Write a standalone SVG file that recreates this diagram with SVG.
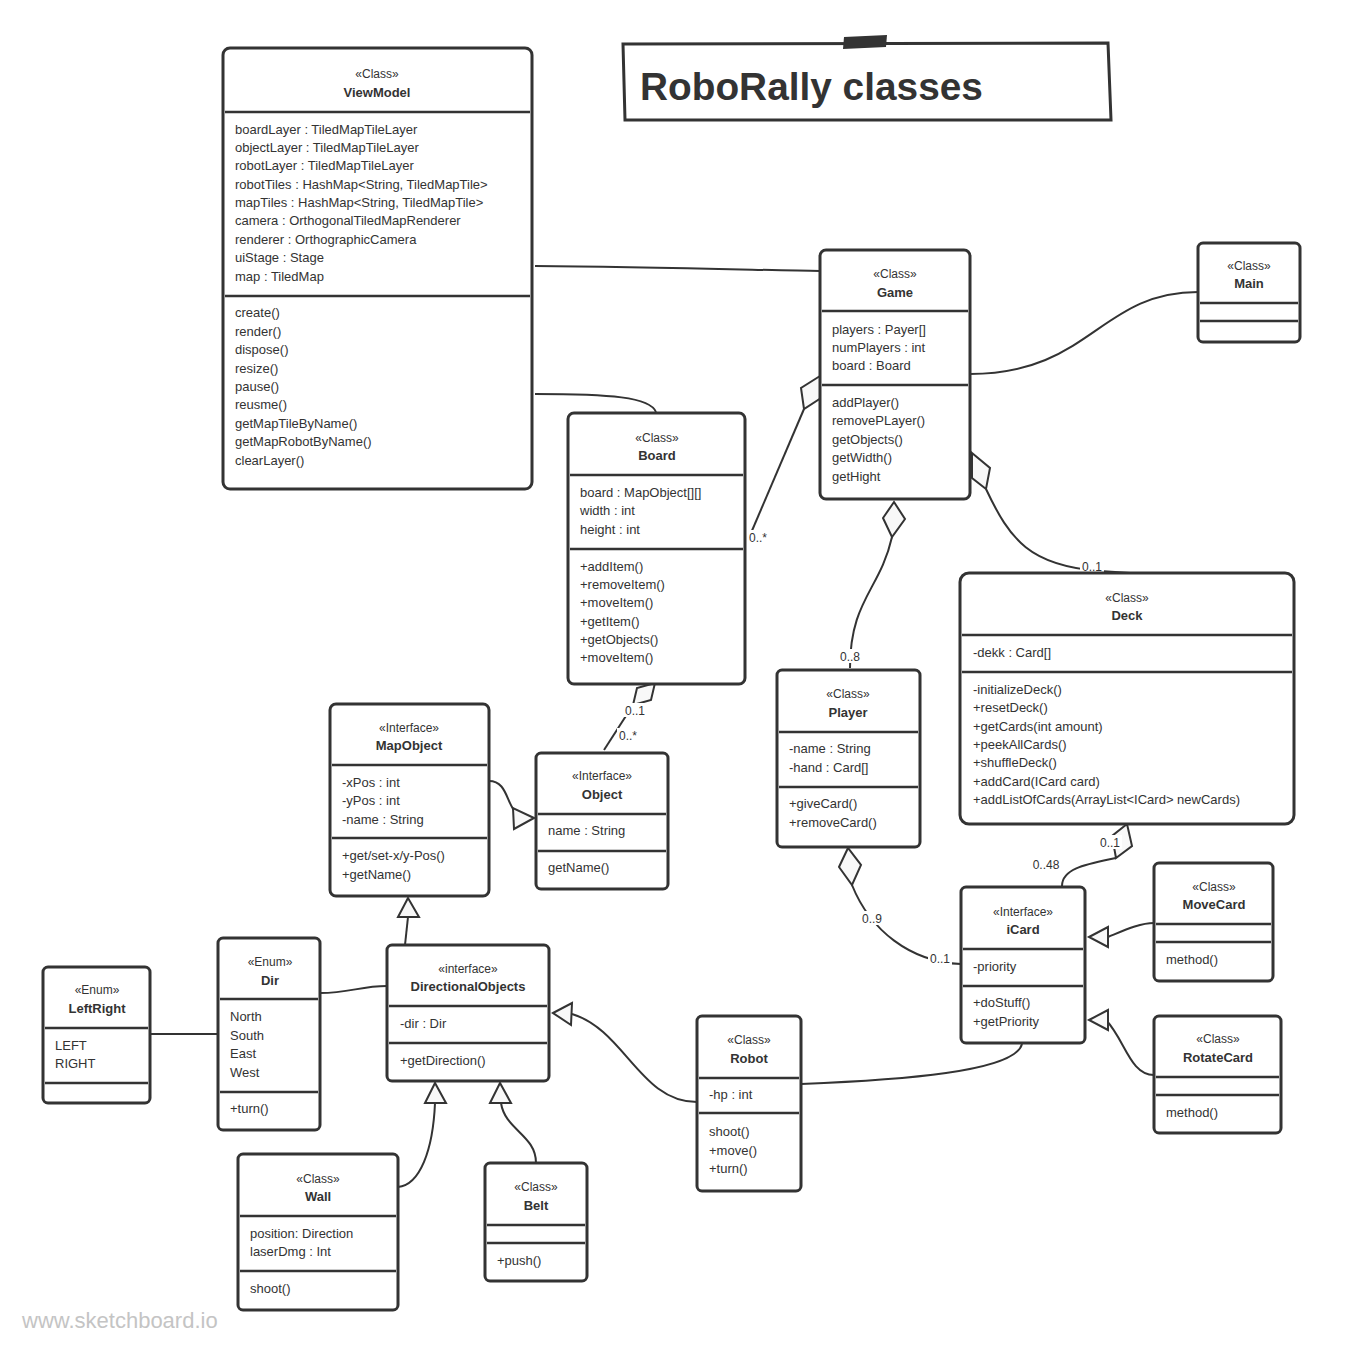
<svg xmlns="http://www.w3.org/2000/svg" width="1356" height="1352" viewBox="0 0 1356 1352">
<style>
.box{fill:#fff;stroke:#333;stroke-width:3}
.dv{stroke:#333;stroke-width:2.5;fill:none}
text{font-family:"Liberation Sans",Arial,sans-serif;fill:#333}
.t{font-size:13px}
.st{font-size:12px;text-anchor:middle}
.nm{font-size:13px;font-weight:bold;text-anchor:middle}
.conn{fill:none;stroke:#333;stroke-width:2}
.head{fill:#f8f8f8;stroke:#333;stroke-width:2;stroke-linejoin:miter}
.lbl{font-size:12px;text-anchor:middle}
.lb{fill:#fff}
</style>
<rect width="1356" height="1352" fill="#fff"/>

<g id="title">
<path d="M623,44 L1108,43 L1111,120 L625,120 Z" fill="#fff" stroke="#333" stroke-width="3"/>
<path d="M844,37 L887,35 L886,47 L843,49 Z" fill="#333"/>
<text x="640" y="100" style="font-size:38.8px;font-weight:bold">RoboRally classes</text>
</g>

<g id="connectors">
<path class="conn" d="M535,266 C650,267 760,270 820,271"/>
<path class="conn" d="M535,394 C610,394 650,397 656,412"/>
<path class="conn" d="M970,374 C1090,374 1100,292 1198,292"/>
<path class="conn" d="M804,409 L748,540"/>
<polygon class="head" points="820,376 801,388 804,409 821,398"/>
<path class="conn" d="M892,537 C880,590 850,600 850,668"/>
<polygon class="head" points="894,502 883,518 892,537 905,519"/>
<path class="conn" d="M986,489 C1010,540 1030,566 1100,571 L1130,573"/>
<polygon class="head" points="972,453 990,468 986,489 972,478"/>
<path class="conn" d="M633,705 L604,750"/>
<polygon class="head" points="655,683 637,688 633,705 651,700"/>
<path class="conn" d="M489,781 C506,781 506,800 515,812"/>
<polygon class="head" points="534,818 513,808 514,829"/>
<path class="conn" d="M408,917 L405,945"/>
<polygon class="head" points="408,898 398,917 419,917"/>
<path class="conn" d="M320,993 C350,993 360,986 387,986"/>
<path class="conn" d="M150,1034 L218,1034"/>
<path class="conn" d="M435,1103 C433,1150 420,1185 398,1187"/>
<polygon class="head" points="435,1083 425,1103 446,1103"/>
<path class="conn" d="M501,1103 C505,1130 536,1135 536,1163"/>
<polygon class="head" points="500,1083 490,1103 511,1103"/>
<path class="conn" d="M572,1014 C625,1030 640,1102 697,1102"/>
<polygon class="head" points="553,1013 572,1003 571,1025"/>
<path class="conn" d="M801,1084 C900,1080 1015,1072 1022,1044"/>
<path class="conn" d="M852,885 C870,930 910,962 961,964"/>
<polygon class="head" points="848,848 839,867 852,885 861,865"/>
<path class="conn" d="M1116,858 C1088,864 1062,868 1062,886"/>
<polygon class="head" points="1127,824 1132,846 1116,858 1112,836"/>
<path class="conn" d="M1108,937 C1125,930 1140,923 1154,923"/>
<polygon class="head" points="1089,937 1108,927 1108,947"/>
<path class="conn" d="M1106,1020 C1125,1040 1130,1075 1154,1075"/>
<polygon class="head" points="1089,1020 1108,1010 1108,1030"/>
<rect class="lb" x="747" y="530" width="22" height="14"/>
<text class="lbl" x="758" y="542">0..*</text>
<rect class="lb" x="838" y="649" width="24" height="14"/>
<text class="lbl" x="850" y="661">0..8</text>
<rect class="lb" x="1080" y="559" width="24" height="14"/>
<text class="lbl" x="1092" y="571">0..1</text>
<rect class="lb" x="623" y="703" width="24" height="14"/>
<text class="lbl" x="635" y="715">0..1</text>
<rect class="lb" x="617" y="728" width="22" height="14"/>
<text class="lbl" x="628" y="740">0..*</text>
<rect class="lb" x="860" y="911" width="24" height="14"/>
<text class="lbl" x="872" y="923">0..9</text>
<rect class="lb" x="928" y="952" width="24" height="14"/>
<text class="lbl" x="940" y="963">0..1</text>
<rect class="lb" x="1098" y="835" width="24" height="14"/>
<text class="lbl" x="1110" y="847">0..1</text>
<rect class="lb" x="1030" y="857" width="32" height="14"/>
<text class="lbl" x="1046" y="869">0..48</text>
</g>

<g id="ViewModel">
<rect class="box" x="223" y="48" width="309" height="441" rx="7"/>
<text class="st" x="377" y="78">«Class»</text>
<text class="nm" x="377" y="97">ViewModel</text>
<line class="dv" x1="225" y1="112" x2="530" y2="112"/>
<text class="t" x="235" y="134">boardLayer : TiledMapTileLayer</text>
<text class="t" x="235" y="152">objectLayer : TiledMapTileLayer</text>
<text class="t" x="235" y="170">robotLayer : TiledMapTileLayer</text>
<text class="t" x="235" y="189">robotTiles : HashMap&lt;String, TiledMapTile&gt;</text>
<text class="t" x="235" y="207">mapTiles : HashMap&lt;String, TiledMapTile&gt;</text>
<text class="t" x="235" y="225">camera : OrthogonalTiledMapRenderer</text>
<text class="t" x="235" y="244">renderer : OrthographicCamera</text>
<text class="t" x="235" y="262">uiStage : Stage</text>
<text class="t" x="235" y="281">map : TiledMap</text>
<line class="dv" x1="225" y1="296" x2="530" y2="296"/>
<text class="t" x="235" y="317">create()</text>
<text class="t" x="235" y="336">render()</text>
<text class="t" x="235" y="354">dispose()</text>
<text class="t" x="235" y="373">resize()</text>
<text class="t" x="235" y="391">pause()</text>
<text class="t" x="235" y="409">reusme()</text>
<text class="t" x="235" y="428">getMapTileByName()</text>
<text class="t" x="235" y="446">getMapRobotByName()</text>
<text class="t" x="235" y="465">clearLayer()</text>
</g>

<g id="Game">
<rect class="box" x="820" y="250" width="150" height="249" rx="6"/>
<text class="st" x="895" y="278">«Class»</text>
<text class="nm" x="895" y="297">Game</text>
<line class="dv" x1="822" y1="311" x2="968" y2="311"/>
<text class="t" x="832" y="334">players : Payer[]</text>
<text class="t" x="832" y="352">numPlayers : int</text>
<text class="t" x="832" y="370">board : Board</text>
<line class="dv" x1="822" y1="385" x2="968" y2="385"/>
<text class="t" x="832" y="407">addPlayer()</text>
<text class="t" x="832" y="425">removePLayer()</text>
<text class="t" x="832" y="444">getObjects()</text>
<text class="t" x="832" y="462">getWidth()</text>
<text class="t" x="832" y="481">getHight</text>
</g>

<g id="Main">
<rect class="box" x="1198" y="243" width="102" height="99" rx="5"/>
<text class="st" x="1249" y="270">«Class»</text>
<text class="nm" x="1249" y="288">Main</text>
<line class="dv" x1="1200" y1="303" x2="1298" y2="303"/>
<line class="dv" x1="1200" y1="321" x2="1298" y2="321"/>
</g>

<g id="Board">
<rect class="box" x="568" y="413" width="177" height="271" rx="6"/>
<text class="st" x="657" y="442">«Class»</text>
<text class="nm" x="657" y="460">Board</text>
<line class="dv" x1="570" y1="475" x2="743" y2="475"/>
<text class="t" x="580" y="497">board : MapObject[][]</text>
<text class="t" x="580" y="515">width : int</text>
<text class="t" x="580" y="534">height : int</text>
<line class="dv" x1="570" y1="549" x2="743" y2="549"/>
<text class="t" x="580" y="571">+addItem()</text>
<text class="t" x="580" y="589">+removeItem()</text>
<text class="t" x="580" y="607">+moveItem()</text>
<text class="t" x="580" y="626">+getItem()</text>
<text class="t" x="580" y="644">+getObjects()</text>
<text class="t" x="580" y="662">+moveItem()</text>
</g>

<g id="Deck">
<rect class="box" x="960" y="573" width="334" height="251" rx="9"/>
<text class="st" x="1127" y="602">«Class»</text>
<text class="nm" x="1127" y="620">Deck</text>
<line class="dv" x1="962" y1="635" x2="1292" y2="635"/>
<text class="t" x="973" y="657">-dekk : Card[]</text>
<line class="dv" x1="962" y1="672" x2="1292" y2="672"/>
<text class="t" x="973" y="694">-initializeDeck()</text>
<text class="t" x="973" y="712">+resetDeck()</text>
<text class="t" x="973" y="731">+getCards(int amount)</text>
<text class="t" x="973" y="749">+peekAllCards()</text>
<text class="t" x="973" y="767">+shuffleDeck()</text>
<text class="t" x="973" y="786">+addCard(ICard card)</text>
<text class="t" x="973" y="804">+addListOfCards(ArrayList&lt;ICard&gt; newCards)</text>
</g>

<g id="Player">
<rect class="box" x="777" y="670" width="143" height="177" rx="5"/>
<text class="st" x="848" y="698">«Class»</text>
<text class="nm" x="848" y="717">Player</text>
<line class="dv" x1="779" y1="732" x2="918" y2="732"/>
<text class="t" x="789" y="753">-name : String</text>
<text class="t" x="789" y="772">-hand : Card[]</text>
<line class="dv" x1="779" y1="787" x2="918" y2="787"/>
<text class="t" x="789" y="808">+giveCard()</text>
<text class="t" x="789" y="827">+removeCard()</text>
</g>

<g id="MapObject">
<rect class="box" x="330" y="704" width="159" height="192" rx="6"/>
<text class="st" x="409" y="732">«Interface»</text>
<text class="nm" x="409" y="750">MapObject</text>
<line class="dv" x1="332" y1="765" x2="487" y2="765"/>
<text class="t" x="342" y="787">-xPos : int</text>
<text class="t" x="342" y="805">-yPos : int</text>
<text class="t" x="342" y="824">-name : String</text>
<line class="dv" x1="332" y1="838" x2="487" y2="838"/>
<text class="t" x="342" y="860">+get/set-x/y-Pos()</text>
<text class="t" x="342" y="879">+getName()</text>
</g>

<g id="Object">
<rect class="box" x="536" y="753" width="132" height="136" rx="5"/>
<text class="st" x="602" y="780">«Interface»</text>
<text class="nm" x="602" y="799">Object</text>
<line class="dv" x1="538" y1="814" x2="666" y2="814"/>
<text class="t" x="548" y="835">name : String</text>
<line class="dv" x1="538" y1="851" x2="666" y2="851"/>
<text class="t" x="548" y="872">getName()</text>
</g>

<g id="iCard">
<rect class="box" x="961" y="887" width="124" height="156" rx="5"/>
<text class="st" x="1023" y="916">«Interface»</text>
<text class="nm" x="1023" y="934">iCard</text>
<line class="dv" x1="963" y1="949" x2="1083" y2="949"/>
<text class="t" x="973" y="971">-priority</text>
<line class="dv" x1="963" y1="986" x2="1083" y2="986"/>
<text class="t" x="973" y="1007">+doStuff()</text>
<text class="t" x="973" y="1026">+getPriority</text>
</g>

<g id="MoveCard">
<rect class="box" x="1154" y="863" width="119" height="118" rx="5"/>
<text class="st" x="1214" y="891">«Class»</text>
<text class="nm" x="1214" y="909">MoveCard</text>
<line class="dv" x1="1156" y1="924" x2="1271" y2="924"/>
<line class="dv" x1="1156" y1="942" x2="1271" y2="942"/>
<text class="t" x="1166" y="964">method()</text>
</g>

<g id="RotateCard">
<rect class="box" x="1154" y="1016" width="127" height="117" rx="5"/>
<text class="st" x="1218" y="1043">«Class»</text>
<text class="nm" x="1218" y="1062">RotateCard</text>
<line class="dv" x1="1156" y1="1077" x2="1279" y2="1077"/>
<line class="dv" x1="1156" y1="1095" x2="1279" y2="1095"/>
<text class="t" x="1166" y="1117">method()</text>
</g>

<g id="LeftRight">
<rect class="box" x="43" y="967" width="107" height="136" rx="5"/>
<text class="st" x="97" y="994">«Enum»</text>
<text class="nm" x="97" y="1013">LeftRight</text>
<line class="dv" x1="45" y1="1028" x2="148" y2="1028"/>
<text class="t" x="55" y="1050">LEFT</text>
<text class="t" x="55" y="1068">RIGHT</text>
<line class="dv" x1="45" y1="1083" x2="148" y2="1083"/>
</g>

<g id="Dir">
<rect class="box" x="218" y="938" width="102" height="192" rx="5"/>
<text class="st" x="270" y="966">«Enum»</text>
<text class="nm" x="270" y="985">Dir</text>
<line class="dv" x1="220" y1="999" x2="318" y2="999"/>
<text class="t" x="230" y="1021">North</text>
<text class="t" x="230" y="1040">South</text>
<text class="t" x="230" y="1058">East</text>
<text class="t" x="230" y="1077">West</text>
<line class="dv" x1="220" y1="1092" x2="318" y2="1092"/>
<text class="t" x="230" y="1113">+turn()</text>
</g>

<g id="DirectionalObjects">
<rect class="box" x="387" y="945" width="162" height="136" rx="5"/>
<text class="st" x="468" y="973">«interface»</text>
<text class="nm" x="468" y="991">DirectionalObjects</text>
<line class="dv" x1="389" y1="1006" x2="547" y2="1006"/>
<text class="t" x="400" y="1028">-dir : Dir</text>
<line class="dv" x1="389" y1="1043" x2="547" y2="1043"/>
<text class="t" x="400" y="1065">+getDirection()</text>
</g>

<g id="Robot">
<rect class="box" x="697" y="1016" width="104" height="175" rx="5"/>
<text class="st" x="749" y="1044">«Class»</text>
<text class="nm" x="749" y="1063">Robot</text>
<line class="dv" x1="699" y1="1078" x2="799" y2="1078"/>
<text class="t" x="709" y="1099">-hp : int</text>
<line class="dv" x1="699" y1="1113" x2="799" y2="1113"/>
<text class="t" x="709" y="1136">shoot()</text>
<text class="t" x="709" y="1155">+move()</text>
<text class="t" x="709" y="1173">+turn()</text>
</g>

<g id="Wall">
<rect class="box" x="238" y="1154" width="160" height="156" rx="5"/>
<text class="st" x="318" y="1183">«Class»</text>
<text class="nm" x="318" y="1201">Wall</text>
<line class="dv" x1="240" y1="1216" x2="396" y2="1216"/>
<text class="t" x="250" y="1238">position: Direction</text>
<text class="t" x="250" y="1256">laserDmg : Int</text>
<line class="dv" x1="240" y1="1271" x2="396" y2="1271"/>
<text class="t" x="250" y="1293">shoot()</text>
</g>

<g id="Belt">
<rect class="box" x="485" y="1163" width="102" height="118" rx="5"/>
<text class="st" x="536" y="1191">«Class»</text>
<text class="nm" x="536" y="1210">Belt</text>
<line class="dv" x1="487" y1="1225" x2="585" y2="1225"/>
<line class="dv" x1="487" y1="1243" x2="585" y2="1243"/>
<text class="t" x="497" y="1265">+push()</text>
</g>

<text x="22" y="1328" style="font-size:22px;fill:#c4c4c4">www.sketchboard.io</text>
</svg>
